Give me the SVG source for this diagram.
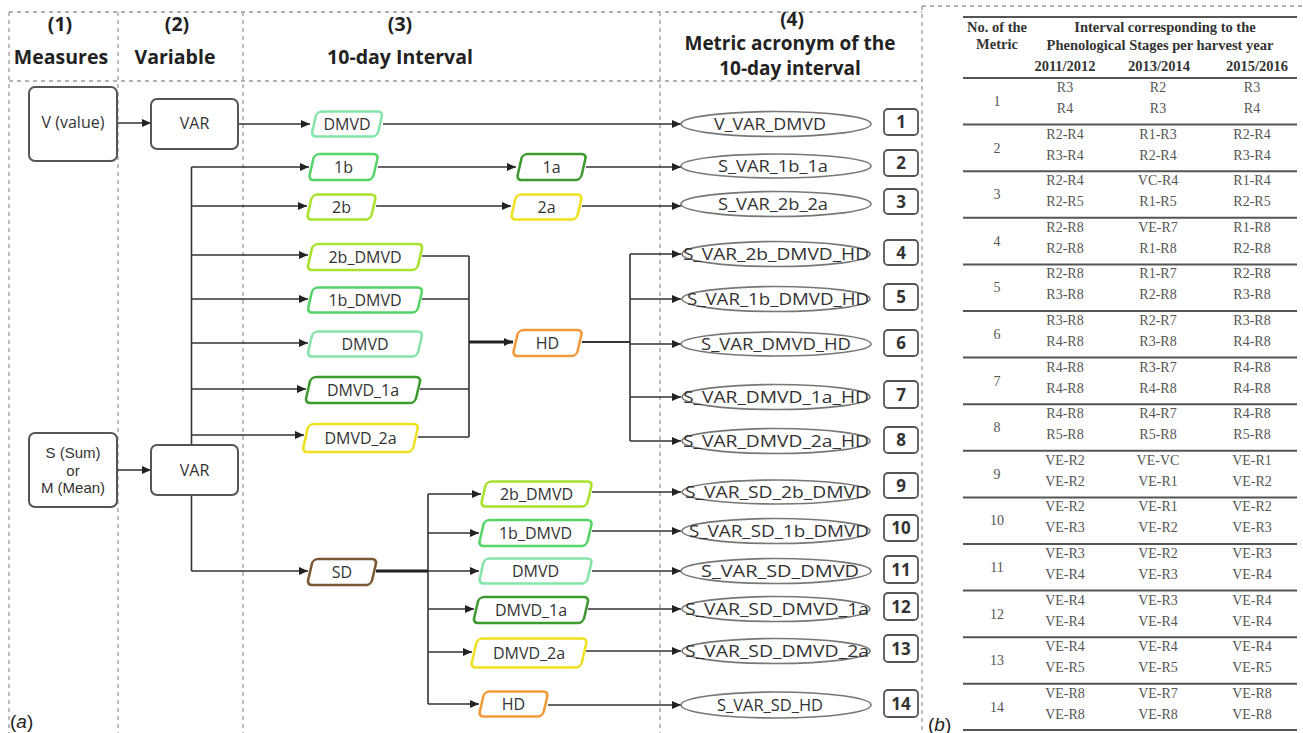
<svg xmlns="http://www.w3.org/2000/svg" width="1303" height="733" viewBox="0 0 1303 733">
<style>
.dash{stroke:#9a9a9a;stroke-width:1.3;stroke-dasharray:4 4;fill:none}
.hdr{font-family:"Open Sans","Liberation Sans",sans-serif;font-weight:bold;font-size:19.5px;fill:#222;text-anchor:middle}
.hdr4{font-family:"Open Sans","Liberation Sans",sans-serif;font-weight:bold;font-size:19px;fill:#222;text-anchor:middle}
.box{fill:#fff;stroke:#555;stroke-width:2}
.para{fill:#fff;stroke-width:2.6}
.t{font-family:"Open Sans","Liberation Sans",sans-serif;font-size:16px;fill:#333;text-anchor:middle}
.ts{font-family:"Liberation Sans",Arial,sans-serif;font-size:15px;fill:#333;text-anchor:middle}
.ell{fill:#fff;stroke:#777;stroke-width:1.6}
.et{font-family:"Open Sans","Liberation Sans",sans-serif;font-size:16.5px;fill:#333;text-anchor:middle}
.num{fill:#fff;stroke:#555;stroke-width:1.8}
.nt{font-family:"Open Sans","Liberation Sans",sans-serif;font-weight:bold;font-size:17px;fill:#333;text-anchor:middle}
.ln{stroke:#333;stroke-width:1.6;fill:none}
.thick{stroke:#222;stroke-width:2.8;fill:none}
.mint{stroke:#86e3ab}.g1{stroke:#55d468}.dg{stroke:#3c9a2e}.yg{stroke:#a8e22c}.ye{stroke:#efe021}.or{stroke:#f29a3a}.br{stroke:#7a5833}
.tb{font-family:"Liberation Serif","Times New Roman",serif;font-size:14px;fill:#555;text-anchor:middle}
.th{font-family:"Liberation Serif","Times New Roman",serif;font-size:14.5px;font-weight:bold;fill:#333;text-anchor:middle}
.rule{stroke:#555;stroke-width:2}
.lab{font-family:"Liberation Sans",Arial,sans-serif;font-size:19px;fill:#222}
</style>
<defs>
<marker id="ar" markerUnits="userSpaceOnUse" markerWidth="9" markerHeight="8" refX="9" refY="4" orient="auto"><path d="M0,0 L9,4 L0,8 z" fill="#222"/></marker>
</defs>

<g id="frame">
<path class="dash" d="M9,12 H922 M922,6 H1303 M9,81 H922 M9,12 V733 M118,12 V733 M243,12 V733 M660,12 V733 M922,6 V733"/>
<text class="hdr" x="60" y="31">(1)</text>
<text class="hdr" x="61" y="64">Measures</text>
<text class="hdr" x="177" y="31">(2)</text>
<text class="hdr" x="175" y="64">Variable</text>
<text class="hdr" x="400" y="31">(3)</text>
<text class="hdr" x="400" y="64">10-day Interval</text>
<text class="hdr4" x="792" y="26">(4)</text>
<text class="hdr4" x="790" y="50">Metric acronym of the</text>
<text class="hdr4" x="790" y="75">10-day interval</text>
<text class="lab" x="10" y="728">(<tspan font-style="italic">a</tspan>)</text>
<text class="lab" x="928" y="731">(<tspan font-style="italic">b</tspan>)</text>
</g>

<g id="connectors">
<path class="ln" marker-end="url(#ar)" d="M117,123 H151"/>
<path class="ln" marker-end="url(#ar)" d="M117,470 H151"/>
<path class="ln" marker-end="url(#ar)" d="M238,124 H310"/>
<path class="ln" marker-end="url(#ar)" d="M383,124 H681"/>
<path class="ln" d="M191.5,167 V571"/>
<path class="ln" marker-end="url(#ar)" d="M191.5,167 H309"/>
<path class="ln" marker-end="url(#ar)" d="M191.5,206 H307"/>
<path class="ln" marker-end="url(#ar)" d="M191.5,255 H308"/>
<path class="ln" marker-end="url(#ar)" d="M191.5,299 H308"/>
<path class="ln" marker-end="url(#ar)" d="M191.5,343 H308"/>
<path class="ln" marker-end="url(#ar)" d="M191.5,389 H306"/>
<path class="ln" marker-end="url(#ar)" d="M191.5,435 H304"/>
<path class="ln" marker-end="url(#ar)" d="M191.5,571 H308"/>
<path class="ln" marker-end="url(#ar)" d="M378,167 H516"/>
<path class="ln" marker-end="url(#ar)" d="M376,206 H511"/>
<path class="ln" marker-end="url(#ar)" d="M586,167 H681"/>
<path class="ln" marker-end="url(#ar)" d="M582,206 H681"/>
<path class="ln" d="M422,256 H469 M422,299 H469 M420,389 H469 M418,437 H469 M469,256 V437"/>
<path class="thick" marker-end="url(#ar)" d="M469,342 H513"/>
<path class="ln" style="stroke-width:2.2" d="M582,342 H630"/>
<path class="ln" d="M630,254 V441"/>
<path class="ln" marker-end="url(#ar)" d="M630,254 H681"/>
<path class="ln" marker-end="url(#ar)" d="M630,299 H681"/>
<path class="ln" marker-end="url(#ar)" d="M630,344 H681"/>
<path class="ln" marker-end="url(#ar)" d="M630,397 H681"/>
<path class="ln" marker-end="url(#ar)" d="M630,441 H681"/>
<path class="thick" d="M376,571 H428"/>
<path class="ln" d="M428,494 V704"/>
<path class="ln" marker-end="url(#ar)" d="M428,494 H481"/>
<path class="ln" marker-end="url(#ar)" d="M428,533 H479"/>
<path class="ln" marker-end="url(#ar)" d="M428,571 H479"/>
<path class="ln" marker-end="url(#ar)" d="M428,609 H474"/>
<path class="ln" marker-end="url(#ar)" d="M428,652 H472"/>
<path class="ln" marker-end="url(#ar)" d="M428,704 H479"/>
<path class="ln" marker-end="url(#ar)" d="M592,492 H681"/>
<path class="ln" marker-end="url(#ar)" d="M592,531 H681"/>
<path class="ln" marker-end="url(#ar)" d="M592,571 H681"/>
<path class="ln" marker-end="url(#ar)" d="M588,609 H681"/>
<path class="ln" marker-end="url(#ar)" d="M586,651 H681"/>
<path class="ln" marker-end="url(#ar)" d="M548,705 H681"/>
</g>

<g id="n-v"><rect class="box" x="29" y="87" width="88" height="74" rx="6"/><text class="t" x="73" y="128">V (value)</text></g>
<g id="n-var1"><rect class="box" x="151" y="99" width="87" height="50" rx="6"/><text class="t" x="194.5" y="129">VAR</text></g>
<g id="n-s"><rect class="box" x="29" y="433" width="88" height="74" rx="6"/><text class="ts" x="73" y="458">S (Sum)</text><text class="ts" x="73" y="475.5">or</text><text class="ts" x="73" y="493">M (Mean)</text></g>
<g id="n-var2"><rect class="box" x="151" y="445" width="87" height="50" rx="6"/><text class="t" x="194.5" y="476">VAR</text></g>

<g id="n-dmvd-v" transform="translate(347,124)"><rect class="para mint" transform="skewX(-13)" x="-33" y="-12.5" width="66" height="25" rx="5"/><text class="t" x="0" y="6">DMVD</text></g>
<g id="n-1b" transform="translate(343.5,167)"><rect class="para g1" transform="skewX(-13)" x="-32" y="-13" width="64" height="26" rx="5"/><text class="t" x="0" y="6">1b</text></g>
<g id="n-1a" transform="translate(551.5,167)"><rect class="para dg" transform="skewX(-13)" x="-32" y="-13" width="64" height="26" rx="5"/><text class="t" x="0" y="6">1a</text></g>
<g id="n-2b" transform="translate(341.5,207)"><rect class="para yg" transform="skewX(-13)" x="-32" y="-12.5" width="64" height="25" rx="5"/><text class="t" x="0" y="6">2b</text></g>
<g id="n-2a" transform="translate(546.5,207)"><rect class="para ye" transform="skewX(-13)" x="-33" y="-12.5" width="66" height="25" rx="5"/><text class="t" x="0" y="6">2a</text></g>
<g id="n-2b-dmvd" transform="translate(365,257)"><rect class="para yg" transform="skewX(-13)" x="-55" y="-13" width="110" height="26" rx="5"/><text class="t" x="0" y="6">2b_DMVD</text></g>
<g id="n-1b-dmvd" transform="translate(365,300)"><rect class="para g1" transform="skewX(-13)" x="-55" y="-12.5" width="110" height="25" rx="5"/><text class="t" x="0" y="6">1b_DMVD</text></g>
<g id="n-dmvd" transform="translate(365,344)"><rect class="para mint" transform="skewX(-13)" x="-55" y="-12.5" width="110" height="25" rx="5"/><text class="t" x="0" y="6">DMVD</text></g>
<g id="n-dmvd-1a" transform="translate(363,390)"><rect class="para dg" transform="skewX(-13)" x="-55" y="-13" width="110" height="26" rx="5"/><text class="t" x="0" y="6">DMVD_1a</text></g>
<g id="n-dmvd-2a" transform="translate(360.5,438)"><rect class="para ye" transform="skewX(-13)" x="-55" y="-14" width="110" height="28" rx="5"/><text class="t" x="0" y="6">DMVD_2a</text></g>
<g id="n-hd" transform="translate(547.5,343)"><rect class="para or" transform="skewX(-13)" x="-32" y="-13" width="64" height="26" rx="5"/><text class="t" x="0" y="6">HD</text></g>

<g id="n-sd" transform="translate(342,572)"><rect class="para br" transform="skewX(-13)" x="-32" y="-13" width="64" height="26" rx="5"/><text class="t" x="0" y="6">SD</text></g>
<g id="n-sd-2b-dmvd" transform="translate(536.5,494)"><rect class="para yg" transform="skewX(-13)" x="-53" y="-12.5" width="106" height="25" rx="5"/><text class="t" x="0" y="6">2b_DMVD</text></g>
<g id="n-sd-1b-dmvd" transform="translate(535.5,533)"><rect class="para g1" transform="skewX(-13)" x="-54" y="-13" width="108" height="26" rx="5"/><text class="t" x="0" y="6">1b_DMVD</text></g>
<g id="n-sd-dmvd" transform="translate(535.5,571)"><rect class="para mint" transform="skewX(-13)" x="-54" y="-12.5" width="108" height="25" rx="5"/><text class="t" x="0" y="6">DMVD</text></g>
<g id="n-sd-dmvd-1a" transform="translate(531,610)"><rect class="para dg" transform="skewX(-13)" x="-55" y="-13" width="110" height="26" rx="5"/><text class="t" x="0" y="6">DMVD_1a</text></g>
<g id="n-sd-dmvd-2a" transform="translate(529,653)"><rect class="para ye" transform="skewX(-13)" x="-55" y="-14.5" width="110" height="29" rx="5"/><text class="t" x="0" y="6">DMVD_2a</text></g>
<g id="n-sd-hd" transform="translate(513.5,704)"><rect class="para or" transform="skewX(-13)" x="-32" y="-12.5" width="64" height="25" rx="5"/><text class="t" x="0" y="6">HD</text></g>

<g id="m1"><ellipse class="ell" cx="776" cy="124" rx="95" ry="12.5"/><text class="et" x="770" y="130" textLength="112" lengthAdjust="spacingAndGlyphs">V_VAR_DMVD</text><rect class="num" x="884" y="109" width="34" height="26" rx="4"/><text class="nt" x="901" y="128">1</text></g>
<g id="m2"><ellipse class="ell" cx="776" cy="166" rx="95" ry="12"/><text class="et" x="773" y="172" textLength="110" lengthAdjust="spacingAndGlyphs">S_VAR_1b_1a</text><rect class="num" x="884" y="150" width="34" height="26" rx="4"/><text class="nt" x="901" y="169">2</text></g>
<g id="m3"><ellipse class="ell" cx="776" cy="204" rx="95" ry="12.5"/><text class="et" x="773" y="210" textLength="110" lengthAdjust="spacingAndGlyphs">S_VAR_2b_2a</text><rect class="num" x="884" y="189" width="34" height="25" rx="4"/><text class="nt" x="901" y="208">3</text></g>
<g id="m4"><ellipse class="ell" cx="776" cy="254" rx="94" ry="12.5"/><text class="et" x="776" y="260" textLength="186" lengthAdjust="spacingAndGlyphs">S_VAR_2b_DMVD_HD</text><rect class="num" x="884" y="240" width="34" height="25" rx="4"/><text class="nt" x="901" y="259">4</text></g>
<g id="m5"><ellipse class="ell" cx="776" cy="299" rx="94" ry="12.5"/><text class="et" x="778" y="305" textLength="182" lengthAdjust="spacingAndGlyphs">S_VAR_1b_DMVD_HD</text><rect class="num" x="884" y="284" width="34" height="26" rx="4"/><text class="nt" x="901" y="303">5</text></g>
<g id="m6"><ellipse class="ell" cx="776" cy="344" rx="95" ry="12"/><text class="et" x="776" y="350" textLength="150" lengthAdjust="spacingAndGlyphs">S_VAR_DMVD_HD</text><rect class="num" x="884" y="330" width="34" height="26" rx="4"/><text class="nt" x="901" y="349">6</text></g>
<g id="m7"><ellipse class="ell" cx="776" cy="397" rx="94" ry="12.5"/><text class="et" x="776" y="403" textLength="186" lengthAdjust="spacingAndGlyphs">S_VAR_DMVD_1a_HD</text><rect class="num" x="884" y="381" width="34" height="27" rx="4"/><text class="nt" x="901" y="401">7</text></g>
<g id="m8"><ellipse class="ell" cx="776" cy="441" rx="94" ry="12.5"/><text class="et" x="776" y="447" textLength="186" lengthAdjust="spacingAndGlyphs">S_VAR_DMVD_2a_HD</text><rect class="num" x="884" y="427" width="34" height="26" rx="4"/><text class="nt" x="901" y="446">8</text></g>
<g id="m9"><ellipse class="ell" cx="776" cy="492" rx="94" ry="12"/><text class="et" x="777" y="498" textLength="184" lengthAdjust="spacingAndGlyphs">S_VAR_SD_2b_DMVD</text><rect class="num" x="884" y="473" width="34" height="25" rx="4"/><text class="nt" x="901" y="492">9</text></g>
<g id="m10"><ellipse class="ell" cx="776" cy="531" rx="94" ry="12.5"/><text class="et" x="779" y="537" textLength="180" lengthAdjust="spacingAndGlyphs">S_VAR_SD_1b_DMVD</text><rect class="num" x="884" y="515" width="34" height="26" rx="4"/><text class="nt" x="901" y="534">10</text></g>
<g id="m11"><ellipse class="ell" cx="776" cy="571" rx="95" ry="12.5"/><text class="et" x="780" y="577" textLength="158" lengthAdjust="spacingAndGlyphs">S_VAR_SD_DMVD</text><rect class="num" x="884" y="556" width="34" height="27" rx="4"/><text class="nt" x="901" y="576">11</text></g>
<g id="m12"><ellipse class="ell" cx="776" cy="609" rx="94" ry="12.5"/><text class="et" x="777" y="615" textLength="184" lengthAdjust="spacingAndGlyphs">S_VAR_SD_DMVD_1a</text><rect class="num" x="884" y="593" width="34" height="27" rx="4"/><text class="nt" x="901" y="613">12</text></g>
<g id="m13"><ellipse class="ell" cx="776" cy="651" rx="94" ry="12.5"/><text class="et" x="777" y="657" textLength="184" lengthAdjust="spacingAndGlyphs">S_VAR_SD_DMVD_2a</text><rect class="num" x="884" y="635" width="34" height="27" rx="4"/><text class="nt" x="901" y="655">13</text></g>
<g id="m14"><ellipse class="ell" cx="776" cy="705" rx="95" ry="13"/><text class="et" x="770" y="711" textLength="106" lengthAdjust="spacingAndGlyphs">S_VAR_SD_HD</text><rect class="num" x="884" y="690" width="34" height="27" rx="4"/><text class="nt" x="901" y="710">14</text></g>

<g id="table">
<path class="rule" d="M963,17 H1297 M963,78 H1297 M963,124.6 H1297 M963,171.2 H1297 M963,217.8 H1297 M963,264.4 H1297 M963,311 H1297 M963,357.6 H1297 M963,404.2 H1297 M963,450.8 H1297 M963,497.4 H1297 M963,544 H1297 M963,590.6 H1297 M963,637.2 H1297 M963,683.8 H1297 M963,730 H1297"/>
<text class="th" x="997" y="32">No. of the</text>
<text class="th" x="997" y="49">Metric</text>
<text class="th" x="1165" y="32">Interval corresponding to the</text>
<text class="th" x="1160" y="50">Phenological Stages per harvest year</text>
<text class="th" x="1065" y="71">2011/2012</text>
<text class="th" x="1159" y="71">2013/2014</text>
<text class="th" x="1257" y="71">2015/2016</text>

<text class="tb" x="997" y="106">1</text><text class="tb" x="1065" y="92">R3</text><text class="tb" x="1065" y="113">R4</text><text class="tb" x="1158" y="92">R2</text><text class="tb" x="1158" y="113">R3</text><text class="tb" x="1252" y="92">R3</text><text class="tb" x="1252" y="113">R4</text>
<text class="tb" x="997" y="153">2</text><text class="tb" x="1065" y="139">R2-R4</text><text class="tb" x="1065" y="160">R3-R4</text><text class="tb" x="1158" y="139">R1-R3</text><text class="tb" x="1158" y="160">R2-R4</text><text class="tb" x="1252" y="139">R2-R4</text><text class="tb" x="1252" y="160">R3-R4</text>
<text class="tb" x="997" y="199">3</text><text class="tb" x="1065" y="185">R2-R4</text><text class="tb" x="1065" y="206">R2-R5</text><text class="tb" x="1158" y="185">VC-R4</text><text class="tb" x="1158" y="206">R1-R5</text><text class="tb" x="1252" y="185">R1-R4</text><text class="tb" x="1252" y="206">R2-R5</text>
<text class="tb" x="997" y="246">4</text><text class="tb" x="1065" y="232">R2-R8</text><text class="tb" x="1065" y="253">R2-R8</text><text class="tb" x="1158" y="232">VE-R7</text><text class="tb" x="1158" y="253">R1-R8</text><text class="tb" x="1252" y="232">R1-R8</text><text class="tb" x="1252" y="253">R2-R8</text>
<text class="tb" x="997" y="292">5</text><text class="tb" x="1065" y="278">R2-R8</text><text class="tb" x="1065" y="299">R3-R8</text><text class="tb" x="1158" y="278">R1-R7</text><text class="tb" x="1158" y="299">R2-R8</text><text class="tb" x="1252" y="278">R2-R8</text><text class="tb" x="1252" y="299">R3-R8</text>
<text class="tb" x="997" y="339">6</text><text class="tb" x="1065" y="325">R3-R8</text><text class="tb" x="1065" y="346">R4-R8</text><text class="tb" x="1158" y="325">R2-R7</text><text class="tb" x="1158" y="346">R3-R8</text><text class="tb" x="1252" y="325">R3-R8</text><text class="tb" x="1252" y="346">R4-R8</text>
<text class="tb" x="997" y="386">7</text><text class="tb" x="1065" y="372">R4-R8</text><text class="tb" x="1065" y="393">R4-R8</text><text class="tb" x="1158" y="372">R3-R7</text><text class="tb" x="1158" y="393">R4-R8</text><text class="tb" x="1252" y="372">R4-R8</text><text class="tb" x="1252" y="393">R4-R8</text>
<text class="tb" x="997" y="432">8</text><text class="tb" x="1065" y="418">R4-R8</text><text class="tb" x="1065" y="439">R5-R8</text><text class="tb" x="1158" y="418">R4-R7</text><text class="tb" x="1158" y="439">R5-R8</text><text class="tb" x="1252" y="418">R4-R8</text><text class="tb" x="1252" y="439">R5-R8</text>
<text class="tb" x="997" y="479">9</text><text class="tb" x="1065" y="465">VE-R2</text><text class="tb" x="1065" y="486">VE-R2</text><text class="tb" x="1158" y="465">VE-VC</text><text class="tb" x="1158" y="486">VE-R1</text><text class="tb" x="1252" y="465">VE-R1</text><text class="tb" x="1252" y="486">VE-R2</text>
<text class="tb" x="997" y="525">10</text><text class="tb" x="1065" y="511">VE-R2</text><text class="tb" x="1065" y="532">VE-R3</text><text class="tb" x="1158" y="511">VE-R1</text><text class="tb" x="1158" y="532">VE-R2</text><text class="tb" x="1252" y="511">VE-R2</text><text class="tb" x="1252" y="532">VE-R3</text>
<text class="tb" x="997" y="572">11</text><text class="tb" x="1065" y="558">VE-R3</text><text class="tb" x="1065" y="579">VE-R4</text><text class="tb" x="1158" y="558">VE-R2</text><text class="tb" x="1158" y="579">VE-R3</text><text class="tb" x="1252" y="558">VE-R3</text><text class="tb" x="1252" y="579">VE-R4</text>
<text class="tb" x="997" y="619">12</text><text class="tb" x="1065" y="605">VE-R4</text><text class="tb" x="1065" y="626">VE-R4</text><text class="tb" x="1158" y="605">VE-R3</text><text class="tb" x="1158" y="626">VE-R4</text><text class="tb" x="1252" y="605">VE-R4</text><text class="tb" x="1252" y="626">VE-R4</text>
<text class="tb" x="997" y="665">13</text><text class="tb" x="1065" y="651">VE-R4</text><text class="tb" x="1065" y="672">VE-R5</text><text class="tb" x="1158" y="651">VE-R4</text><text class="tb" x="1158" y="672">VE-R5</text><text class="tb" x="1252" y="651">VE-R4</text><text class="tb" x="1252" y="672">VE-R5</text>
<text class="tb" x="997" y="712">14</text><text class="tb" x="1065" y="698">VE-R8</text><text class="tb" x="1065" y="719">VE-R8</text><text class="tb" x="1158" y="698">VE-R7</text><text class="tb" x="1158" y="719">VE-R8</text><text class="tb" x="1252" y="698">VE-R8</text><text class="tb" x="1252" y="719">VE-R8</text>
</g>
</svg>
